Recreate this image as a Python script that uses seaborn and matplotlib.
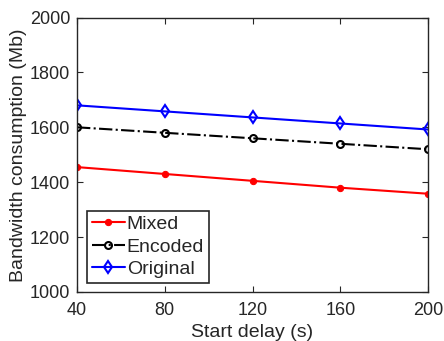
import matplotlib
matplotlib.use("Agg")
import matplotlib.pyplot as plt
import seaborn as sns
import pandas as pd

start_delay = [40, 80, 120, 160, 200]
mixed = [1455, 1430, 1405, 1380, 1358]
encoded = [1600, 1580, 1560, 1540, 1520]
original = [1680, 1658, 1636, 1614, 1592]

sns.set_theme(style="ticks")
plt.rcParams["font.family"] = ["Liberation Sans", "DejaVu Sans"]
plt.rcParams["text.color"] = "#262626"
plt.rcParams["axes.labelcolor"] = "#262626"
plt.rcParams["xtick.color"] = "#262626"
plt.rcParams["ytick.color"] = "#262626"

df = pd.DataFrame({
    "Start delay (s)": start_delay * 3,
    "Bandwidth": mixed + encoded + original,
    "Scheme": ["Mixed"] * 5 + ["Encoded"] * 5 + ["Original"] * 5,
})

fig = plt.figure(figsize=(4.44, 3.41), dpi=100)
ax = fig.add_axes([77 / 444, 1 - 292 / 341, 351 / 444, 274.5 / 341])

styles = {
    "Mixed": dict(color="#ff0000", marker="o", linestyle="-", markersize=4.5,
                  markerfacecolor="#ff0000", markeredgecolor="#ff0000"),
    "Encoded": dict(color="black", marker="o", linestyle="-.", markersize=5,
                    markerfacecolor="none", markeredgecolor="black", markeredgewidth=1.5),
    "Original": dict(color="#0000ff", marker="d", linestyle="-", markersize=6,
                     markerfacecolor="none", markeredgecolor="#0000ff", markeredgewidth=1.5),
}
for name, kw in styles.items():
    sub = df[df["Scheme"] == name]
    sns.lineplot(data=sub, x="Start delay (s)", y="Bandwidth", ax=ax,
                 label=name, linewidth=1.5, **kw)

ax.set_xlim(40, 200)
ax.set_ylim(1000, 2000)
ax.set_xticks(start_delay)
ax.set_yticks([1000, 1200, 1400, 1600, 1800, 2000])
ax.set_xlabel("Start delay (s)", fontsize=14, labelpad=4)
ax.set_ylabel("Bandwidth consumption (Mb)", fontsize=14, labelpad=2)
ax.tick_params(direction="in", length=4, width=0.8, labelsize=13, top=True, right=True)
ax.tick_params(axis="x", pad=7)
ax.tick_params(axis="y", pad=5)
for s in ax.spines.values():
    s.set_visible(True)
    s.set_color("#262626")
    s.set_linewidth(1.0)

leg = ax.legend(loc="lower left", bbox_to_anchor=(0.028, 0.033), fontsize=14,
                frameon=True, fancybox=False, framealpha=1, borderpad=0.25,
                handlelength=1.7, handletextpad=0.1, labelspacing=0.25,
                borderaxespad=0.0)
leg.get_frame().set_edgecolor("#262626")
leg.get_frame().set_linewidth(1.2)

fig.savefig("out.png", dpi=100)
